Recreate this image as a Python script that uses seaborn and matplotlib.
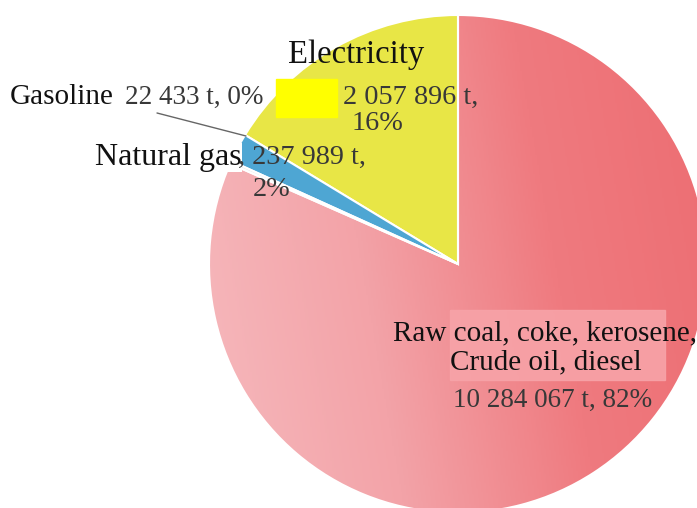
import numpy as np
import matplotlib
matplotlib.use("Agg")
import matplotlib.pyplot as plt
import seaborn as sns
from matplotlib.colors import LinearSegmentedColormap
from matplotlib.patches import Rectangle

# data
categories = ["Electricity", "Natural gas", "Gasoline", "Raw coal, coke, kerosene,"]
tonnes = [2057896, 237989, 22433, 10284067]
percents = ["16%", "2%", "0%", "82%"]
slice_colors = ["#e8e646", "#4ea6d3", "#e6e6e6", "#f08a8f"]


def fmt_t(v):
    return "{:,}".format(v).replace(",", " ") + " t,"


sns.set_theme(style="white")
plt.rcParams["font.family"] = ["Liberation Serif", "DejaVu Serif"]

fig = plt.figure(figsize=(6.97, 5.08), dpi=100)
ax = fig.add_axes([0, 0, 1, 1])

# pie in pixel-like coordinates (y up)
cx, cy, r = 458, 244, 249
wedges, _ = ax.pie(tonnes, colors=slice_colors, startangle=90, counterclock=True,
                   center=(cx, cy), radius=r,
                   wedgeprops=dict(edgecolor="white", linewidth=1.5))
ax.set_xlim(0, 697)
ax.set_ylim(0, 508)
ax.set_aspect("auto")
ax.axis("off")

# gradient fill for the big red slice
cmap = LinearSegmentedColormap.from_list("coal", ["#f6b9bd", "#f3a3a8", "#ef7a7f", "#ed6d72"])
xx, yy = np.meshgrid(np.linspace(0, 1, 300), np.linspace(0, 1, 300))
grad = 0.85 * xx + 0.15 * yy
img = ax.imshow(grad, cmap=cmap, extent=(cx - r, cx + r, cy - r, cy + r),
                origin="lower", aspect="auto", zorder=1)
img.set_clip_path(wedges[3])
wedges[3].set_zorder(2)
wedges[3].set_facecolor("none")
for w in wedges[:3]:
    w.set_zorder(2)

label_kw = dict(color="#111111", zorder=5)
num_kw = dict(fontsize=20.3, color="#383838", zorder=6)

# Electricity
ax.text(356, 453, categories[0], ha="center", va="center", fontsize=23.5, **label_kw)
ax.add_patch(Rectangle((276, 391), 61, 38, color="#ffff00", zorder=5))
ax.text(343, 411, fmt_t(tonnes[0]), ha="left", va="center", **num_kw)
ax.text(377, 384, percents[0], ha="center", va="center", **num_kw)

# Gasoline
ax.text(10, 411, categories[2], ha="left", va="center", fontsize=21, **label_kw)
ax.text(125, 411, fmt_t(tonnes[2])[:-1] + ", " + percents[2], ha="left", va="center",
        fontsize=19.5, color="#383838", zorder=6)
ax.plot([157, 246], [395, 372], color="#666666", lw=1, zorder=4)

# Natural gas
ax.text(95, 351, categories[1], ha="left", va="center", fontsize=23,
        bbox=dict(facecolor="white", edgecolor="none", pad=0), **label_kw)
ax.text(238, 351, ", " + fmt_t(tonnes[1]), ha="left", va="center", **num_kw)
ax.text(272, 318, percents[1], ha="center", va="center", **num_kw)

# Raw coal etc.
ax.add_patch(Rectangle((450, 128), 215, 70, color="#f7a3a8", alpha=0.9, zorder=4))
ax.text(393, 175, categories[3], ha="left", va="center", fontsize=21, **label_kw)
ax.text(546, 146, "Crude oil, diesel", ha="center", va="center", fontsize=21, **label_kw)
ax.text(553, 108, fmt_t(tonnes[3]) + " " + percents[3], ha="center", va="center",
        fontsize=19.5, color="#383838", zorder=6)

fig.savefig("out.png", dpi=100)
